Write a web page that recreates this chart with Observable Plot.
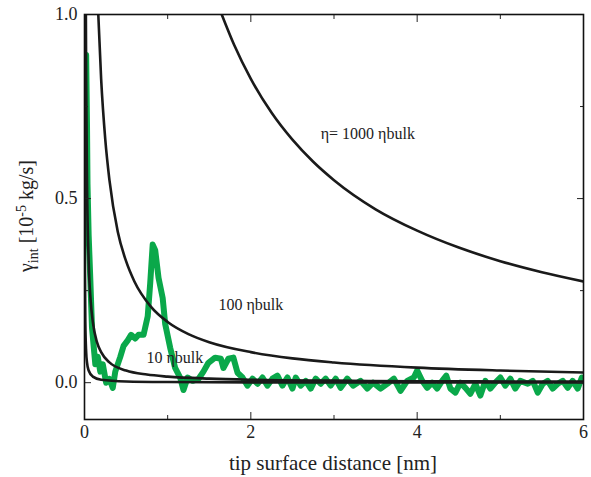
<!DOCTYPE html>
<html><head><meta charset="utf-8">
<script src="https://cdn.jsdelivr.net/npm/d3@7"></script>
<script src="https://cdn.jsdelivr.net/npm/@observablehq/plot@0.6"></script>
<style>body{margin:0;background:#fff} svg{display:block}
svg text{font-family:"Liberation Serif","Times New Roman",serif}</style>
</head><body><div id="chart"></div>
<script>
// axis ticks
const xTicks = [0, 2, 4, 6];
const xTickLabels = ["0", "2", "4", "6"];
const xMinorTicks = [1, 3, 5];
const yTicks = [0, 0.5, 1.0];
const yTickLabels = ["0.0", "0.5", "1.0"];
const yMinorTicks = [0.25, 0.75];

// model curves
const c1000X = [1.65, 1.8, 2.0, 2.25, 2.5, 2.75, 3.0, 3.5, 4.0, 4.5, 5.0, 5.5, 6.0];
const c1000Y = [1.0, 0.917, 0.825, 0.733, 0.66, 0.60, 0.55, 0.471, 0.413, 0.367, 0.33, 0.30, 0.275];
const c100X = [0.16, 0.2, 0.25, 0.3, 0.4, 0.5, 0.6, 0.8, 1.0, 1.25, 1.5, 2.0, 2.5, 3.0, 4.0, 5.0, 6.0];
const c100Y = [1.03, 0.825, 0.66, 0.55, 0.41, 0.33, 0.275, 0.206, 0.165, 0.132, 0.11, 0.083, 0.066, 0.055, 0.041, 0.033, 0.0275];
const c10X = [0.016, 0.02, 0.03, 0.05, 0.075, 0.1, 0.15, 0.2, 0.3, 0.5, 0.75, 1.0, 1.5, 2.0, 3.0, 4.0, 6.0];
const c10Y = [1.03, 0.825, 0.55, 0.33, 0.22, 0.165, 0.11, 0.083, 0.055, 0.033, 0.022, 0.0165, 0.011, 0.008, 0.0055, 0.004, 0.003];
const c1X = [0.0016, 0.002, 0.003, 0.005, 0.01, 0.02, 0.03, 0.05, 0.1, 0.2, 0.5, 1.0, 2.0, 6.0];
const c1Y = [1.03, 0.825, 0.55, 0.33, 0.165, 0.083, 0.055, 0.033, 0.0165, 0.008, 0.0033, 0.0017, 0.0008, 0.0003];

// measured friction (green)
const measX = [0.02, 0.03, 0.036, 0.05, 0.07, 0.09, 0.11, 0.13, 0.16, 0.19, 0.22, 0.26, 0.30, 0.34, 0.37, 0.43, 0.47, 0.52, 0.56, 0.61, 0.65, 0.71, 0.76, 0.79, 0.82, 0.85, 0.89, 0.94, 0.97, 1.03, 1.09, 1.15, 1.19, 1.24, 1.30, 1.37, 1.43, 1.49, 1.57, 1.64, 1.67, 1.73, 1.79, 1.84, 1.90, 1.96,
  2.02, 2.08, 2.14, 2.20, 2.26, 2.32, 2.38, 2.44, 2.50, 2.54, 2.60, 2.66, 2.72, 2.78, 2.84, 2.90, 2.96, 3.02, 3.08, 3.16, 3.23, 3.32, 3.40, 3.47, 3.56, 3.64, 3.72, 3.80, 3.88, 3.96, 4.00, 4.06, 4.12, 4.18, 4.24, 4.30, 4.35, 4.40, 4.46, 4.52, 4.58, 4.64, 4.70, 4.76, 4.82, 4.88, 4.94, 5.00, 5.06, 5.12, 5.18, 5.24, 5.33, 5.39, 5.45, 5.51, 5.57, 5.63, 5.69, 5.75, 5.81, 5.87, 5.93, 5.98];
const measY = [0.89, 0.70, 0.54, 0.40, 0.28, 0.15, 0.10, 0.05, 0.07, 0.03, 0.05, 0.0, 0.01, -0.014, 0.03, 0.07, 0.10, 0.115, 0.13, 0.12, 0.13, 0.13, 0.18, 0.27, 0.375, 0.36, 0.285, 0.23, 0.16, 0.095, 0.04, 0.014, -0.02, 0.014, 0.005, 0.01, 0.03, 0.054, 0.068, 0.065, 0.04, 0.065, 0.068, 0.027, 0.014, -0.008,
  0.011, -0.003, 0.014, -0.008, 0.011, 0.019, -0.008, 0.014, -0.016, 0.014, -0.008, 0.005, -0.016, 0.011, -0.003, 0.011, -0.008, 0.011, -0.014, 0.011, -0.008, 0.005, -0.016, 0.0, -0.016, -0.003, 0.011, -0.022, 0.005, 0.014, 0.033, 0.005, -0.014, 0.0, -0.016, 0.005, 0.019, -0.016, -0.027, 0.0, -0.014, -0.030, -0.003, -0.035, 0.005, -0.016, 0.0, 0.014, -0.008, 0.011, -0.016, 0.005, -0.003, 0.005, -0.027, -0.003, 0.005, -0.016, -0.003, 0.005, -0.014, 0.005, -0.016, 0.014];

// curve annotations
const labelText = ["η= 1000 ηbulk", "100 ηbulk", "10 ηbulk"];
const labelX = [2.84, 1.61, 0.745];
const labelY = [0.677, 0.21, 0.068];

const zip = (xs, ys) => xs.map((x, i) => ({x, y: ys[i]}));
const curves = [zip(c1000X, c1000Y), zip(c100X, c100Y), zip(c10X, c10Y), zip(c1X, c1Y)];
const meas = zip(measX, measY);
const labels = labelText.map((t, i) => ({t, x: labelX[i], y: labelY[i]}));

const font = "Liberation Serif";
const major = 7, minor = 4;

const plot = Plot.plot({
  width: 591, height: 477,
  marginLeft: 84, marginRight: 8, marginTop: 14, marginBottom: 58,
  style: {fontFamily: font, fontSize: "17px", color: "#222", background: "#fff"},
  x: {domain: [0, 6]},
  y: {domain: [-0.1, 1.0]},
  marks: [
    Plot.line(meas, {x: "x", y: "y", stroke: "#0aa84a", strokeWidth: 6, strokeLinejoin: "round", strokeLinecap: "round", clip: true}),
    ...curves.map(c => Plot.line(c, {x: "x", y: "y", curve: "monotone-x", stroke: "#1a1a1a", strokeWidth: 2.6, clip: true})),
    Plot.text(labels, {x: "x", y: "y", text: "t", textAnchor: "start", fontSize: 16, fill: "#222"}),
    Plot.axisX(xTicks, {anchor: "bottom", tickSize: -major, tickPadding: major + 6, tickFormat: (d, i) => xTickLabels[i], label: null, fontSize: 18}),
    Plot.axisX(xMinorTicks, {anchor: "bottom", tickSize: -minor, tickFormat: () => "", label: null}),
    Plot.axisX(xTicks, {anchor: "top", tickSize: -major, tickFormat: () => "", label: null}),
    Plot.axisX(xMinorTicks, {anchor: "top", tickSize: -minor, tickFormat: () => "", label: null}),
    Plot.axisY(yTicks, {anchor: "left", tickSize: -major, tickPadding: major + 7, tickFormat: (d, i) => yTickLabels[i], label: null, fontSize: 18}),
    Plot.axisY(yMinorTicks, {anchor: "left", tickSize: -minor, tickFormat: () => "", label: null}),
    Plot.axisY(yTicks, {anchor: "right", tickSize: -major, tickFormat: () => "", label: null}),
    Plot.axisY(yMinorTicks, {anchor: "right", tickSize: -minor, tickFormat: () => "", label: null}),
    Plot.frame({stroke: "#111", strokeWidth: 1.6})
  ]
});
document.getElementById("chart").appendChild(plot);

const svg = d3.select(plot);
// x-axis title
svg.append("text")
  .attr("x", 333).attr("y", 470)
  .attr("text-anchor", "middle")
  .style("font-size", "21px").attr("fill", "#222")
  .text("tip surface distance [nm]");
// y-axis title with sub/superscripts
const yt = svg.append("text")
  .attr("transform", "translate(33,216) rotate(-90)")
  .attr("text-anchor", "middle")
  .style("font-size", "20px").attr("fill", "#222");
yt.append("tspan").text("γ");
yt.append("tspan").style("font-size", "14px").attr("dy", 5).text("int");
yt.append("tspan").attr("dy", -5).text(" [10");
yt.append("tspan").style("font-size", "14px").attr("dy", -7).text("-5");
yt.append("tspan").attr("dy", 7).text(" kg/s]");
</script>
</body></html>
